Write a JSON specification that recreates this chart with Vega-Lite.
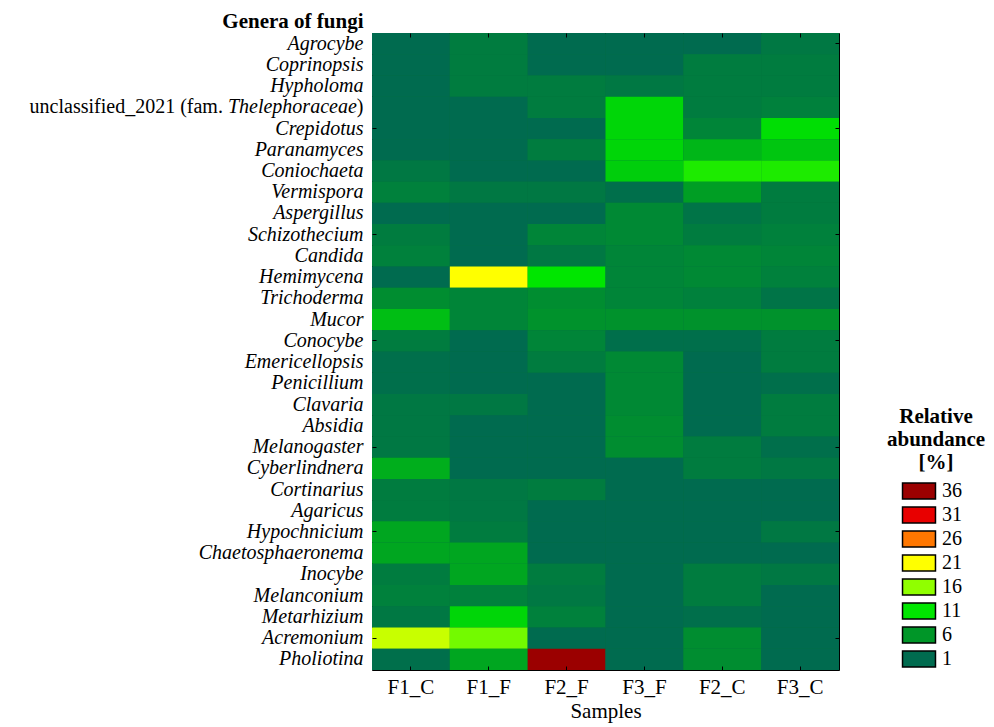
{
  "$schema": "https://vega.github.io/schema/vega-lite/v6.json",
  "autosize": {"type": "none"},
  "padding": {"left": 372, "top": 33, "right": 155, "bottom": 57},
  "width": 467,
  "height": 637,
  "background": "white",
  "config": {
    "view": {"stroke": "#000", "strokeWidth": 1, "fill": "#00703f"},
    "font": "Liberation Serif",
    "axis": {"labelFont": "Liberation Serif", "titleFont": "Liberation Serif", "labelColor": "#000", "titleColor": "#000", "labelFontSize": 21, "titleFontSize": 21, "labelLimit": 400},
    "legend": {"symbolStrokeColor": "#000", "symbolStrokeWidth": 1.5}
  },
  "datasets": {
    "cells": [
      {"genus":"Agrocybe","sample":"F1_C","abundance":1},{"genus":"Agrocybe","sample":"F1_F","abundance":3},{"genus":"Agrocybe","sample":"F2_F","abundance":1},{"genus":"Agrocybe","sample":"F3_F","abundance":1},{"genus":"Agrocybe","sample":"F2_C","abundance":1},{"genus":"Agrocybe","sample":"F3_C","abundance":2.5},
      {"genus":"Coprinopsis","sample":"F1_C","abundance":1},{"genus":"Coprinopsis","sample":"F1_F","abundance":3},{"genus":"Coprinopsis","sample":"F2_F","abundance":1},{"genus":"Coprinopsis","sample":"F3_F","abundance":1},{"genus":"Coprinopsis","sample":"F2_C","abundance":3},{"genus":"Coprinopsis","sample":"F3_C","abundance":3},
      {"genus":"Hypholoma","sample":"F1_C","abundance":1},{"genus":"Hypholoma","sample":"F1_F","abundance":3},{"genus":"Hypholoma","sample":"F2_F","abundance":3},{"genus":"Hypholoma","sample":"F3_F","abundance":2.5},{"genus":"Hypholoma","sample":"F2_C","abundance":3},{"genus":"Hypholoma","sample":"F3_C","abundance":3},
      {"genus":"unclassified_2021 (fam. Thelephoraceae)","sample":"F1_C","abundance":1},{"genus":"unclassified_2021 (fam. Thelephoraceae)","sample":"F1_F","abundance":1},{"genus":"unclassified_2021 (fam. Thelephoraceae)","sample":"F2_F","abundance":3},{"genus":"unclassified_2021 (fam. Thelephoraceae)","sample":"F3_F","abundance":10},{"genus":"unclassified_2021 (fam. Thelephoraceae)","sample":"F2_C","abundance":3},{"genus":"unclassified_2021 (fam. Thelephoraceae)","sample":"F3_C","abundance":3.5},
      {"genus":"Crepidotus","sample":"F1_C","abundance":1},{"genus":"Crepidotus","sample":"F1_F","abundance":1},{"genus":"Crepidotus","sample":"F2_F","abundance":1},{"genus":"Crepidotus","sample":"F3_F","abundance":10},{"genus":"Crepidotus","sample":"F2_C","abundance":4},{"genus":"Crepidotus","sample":"F3_C","abundance":10.5},
      {"genus":"Paranamyces","sample":"F1_C","abundance":1},{"genus":"Paranamyces","sample":"F1_F","abundance":1},{"genus":"Paranamyces","sample":"F2_F","abundance":3},{"genus":"Paranamyces","sample":"F3_F","abundance":10},{"genus":"Paranamyces","sample":"F2_C","abundance":8},{"genus":"Paranamyces","sample":"F3_C","abundance":9},
      {"genus":"Coniochaeta","sample":"F1_C","abundance":2.5},{"genus":"Coniochaeta","sample":"F1_F","abundance":1},{"genus":"Coniochaeta","sample":"F2_F","abundance":1},{"genus":"Coniochaeta","sample":"F3_F","abundance":9.5},{"genus":"Coniochaeta","sample":"F2_C","abundance":12},{"genus":"Coniochaeta","sample":"F3_C","abundance":12},
      {"genus":"Vermispora","sample":"F1_C","abundance":3.5},{"genus":"Vermispora","sample":"F1_F","abundance":2.5},{"genus":"Vermispora","sample":"F2_F","abundance":2.5},{"genus":"Vermispora","sample":"F3_F","abundance":1.5},{"genus":"Vermispora","sample":"F2_C","abundance":6.5},{"genus":"Vermispora","sample":"F3_C","abundance":3},
      {"genus":"Aspergillus","sample":"F1_C","abundance":1},{"genus":"Aspergillus","sample":"F1_F","abundance":1},{"genus":"Aspergillus","sample":"F2_F","abundance":1},{"genus":"Aspergillus","sample":"F3_F","abundance":4.5},{"genus":"Aspergillus","sample":"F2_C","abundance":2},{"genus":"Aspergillus","sample":"F3_C","abundance":3},
      {"genus":"Schizothecium","sample":"F1_C","abundance":3},{"genus":"Schizothecium","sample":"F1_F","abundance":1},{"genus":"Schizothecium","sample":"F2_F","abundance":4},{"genus":"Schizothecium","sample":"F3_F","abundance":4.5},{"genus":"Schizothecium","sample":"F2_C","abundance":3},{"genus":"Schizothecium","sample":"F3_C","abundance":3.5},
      {"genus":"Candida","sample":"F1_C","abundance":3.5},{"genus":"Candida","sample":"F1_F","abundance":1},{"genus":"Candida","sample":"F2_F","abundance":2.5},{"genus":"Candida","sample":"F3_F","abundance":4},{"genus":"Candida","sample":"F2_C","abundance":4.5},{"genus":"Candida","sample":"F3_C","abundance":4},
      {"genus":"Hemimycena","sample":"F1_C","abundance":1},{"genus":"Hemimycena","sample":"F1_F","abundance":21},{"genus":"Hemimycena","sample":"F2_F","abundance":11},{"genus":"Hemimycena","sample":"F3_F","abundance":4},{"genus":"Hemimycena","sample":"F2_C","abundance":4.5},{"genus":"Hemimycena","sample":"F3_C","abundance":3.5},
      {"genus":"Trichoderma","sample":"F1_C","abundance":5},{"genus":"Trichoderma","sample":"F1_F","abundance":4},{"genus":"Trichoderma","sample":"F2_F","abundance":5},{"genus":"Trichoderma","sample":"F3_F","abundance":4},{"genus":"Trichoderma","sample":"F2_C","abundance":3.5},{"genus":"Trichoderma","sample":"F3_C","abundance":2},
      {"genus":"Mucor","sample":"F1_C","abundance":8.5},{"genus":"Mucor","sample":"F1_F","abundance":4},{"genus":"Mucor","sample":"F2_F","abundance":5.5},{"genus":"Mucor","sample":"F3_F","abundance":5.5},{"genus":"Mucor","sample":"F2_C","abundance":5.5},{"genus":"Mucor","sample":"F3_C","abundance":5.5},
      {"genus":"Conocybe","sample":"F1_C","abundance":3},{"genus":"Conocybe","sample":"F1_F","abundance":1},{"genus":"Conocybe","sample":"F2_F","abundance":4},{"genus":"Conocybe","sample":"F3_F","abundance":1.5},{"genus":"Conocybe","sample":"F2_C","abundance":1.5},{"genus":"Conocybe","sample":"F3_C","abundance":3},
      {"genus":"Emericellopsis","sample":"F1_C","abundance":1.5},{"genus":"Emericellopsis","sample":"F1_F","abundance":1},{"genus":"Emericellopsis","sample":"F2_F","abundance":3},{"genus":"Emericellopsis","sample":"F3_F","abundance":4.5},{"genus":"Emericellopsis","sample":"F2_C","abundance":1},{"genus":"Emericellopsis","sample":"F3_C","abundance":3},
      {"genus":"Penicillium","sample":"F1_C","abundance":1.5},{"genus":"Penicillium","sample":"F1_F","abundance":1},{"genus":"Penicillium","sample":"F2_F","abundance":1},{"genus":"Penicillium","sample":"F3_F","abundance":4.5},{"genus":"Penicillium","sample":"F2_C","abundance":1},{"genus":"Penicillium","sample":"F3_C","abundance":1.5},
      {"genus":"Clavaria","sample":"F1_C","abundance":2.5},{"genus":"Clavaria","sample":"F1_F","abundance":2.5},{"genus":"Clavaria","sample":"F2_F","abundance":1},{"genus":"Clavaria","sample":"F3_F","abundance":4.5},{"genus":"Clavaria","sample":"F2_C","abundance":1},{"genus":"Clavaria","sample":"F3_C","abundance":3},
      {"genus":"Absidia","sample":"F1_C","abundance":2.5},{"genus":"Absidia","sample":"F1_F","abundance":1},{"genus":"Absidia","sample":"F2_F","abundance":1},{"genus":"Absidia","sample":"F3_F","abundance":5},{"genus":"Absidia","sample":"F2_C","abundance":1},{"genus":"Absidia","sample":"F3_C","abundance":3},
      {"genus":"Melanogaster","sample":"F1_C","abundance":2.5},{"genus":"Melanogaster","sample":"F1_F","abundance":1},{"genus":"Melanogaster","sample":"F2_F","abundance":1},{"genus":"Melanogaster","sample":"F3_F","abundance":5},{"genus":"Melanogaster","sample":"F2_C","abundance":3},{"genus":"Melanogaster","sample":"F3_C","abundance":1.5},
      {"genus":"Cyberlindnera","sample":"F1_C","abundance":7.5},{"genus":"Cyberlindnera","sample":"F1_F","abundance":1},{"genus":"Cyberlindnera","sample":"F2_F","abundance":1},{"genus":"Cyberlindnera","sample":"F3_F","abundance":1},{"genus":"Cyberlindnera","sample":"F2_C","abundance":3},{"genus":"Cyberlindnera","sample":"F3_C","abundance":2.5},
      {"genus":"Cortinarius","sample":"F1_C","abundance":3},{"genus":"Cortinarius","sample":"F1_F","abundance":2.5},{"genus":"Cortinarius","sample":"F2_F","abundance":3},{"genus":"Cortinarius","sample":"F3_F","abundance":1},{"genus":"Cortinarius","sample":"F2_C","abundance":1},{"genus":"Cortinarius","sample":"F3_C","abundance":1},
      {"genus":"Agaricus","sample":"F1_C","abundance":3},{"genus":"Agaricus","sample":"F1_F","abundance":2.5},{"genus":"Agaricus","sample":"F2_F","abundance":1},{"genus":"Agaricus","sample":"F3_F","abundance":1},{"genus":"Agaricus","sample":"F2_C","abundance":1},{"genus":"Agaricus","sample":"F3_C","abundance":1},
      {"genus":"Hypochnicium","sample":"F1_C","abundance":7},{"genus":"Hypochnicium","sample":"F1_F","abundance":3},{"genus":"Hypochnicium","sample":"F2_F","abundance":1},{"genus":"Hypochnicium","sample":"F3_F","abundance":1},{"genus":"Hypochnicium","sample":"F2_C","abundance":1},{"genus":"Hypochnicium","sample":"F3_C","abundance":2.5},
      {"genus":"Chaetosphaeronema","sample":"F1_C","abundance":7},{"genus":"Chaetosphaeronema","sample":"F1_F","abundance":7},{"genus":"Chaetosphaeronema","sample":"F2_F","abundance":1},{"genus":"Chaetosphaeronema","sample":"F3_F","abundance":1},{"genus":"Chaetosphaeronema","sample":"F2_C","abundance":1},{"genus":"Chaetosphaeronema","sample":"F3_C","abundance":1},
      {"genus":"Inocybe","sample":"F1_C","abundance":3},{"genus":"Inocybe","sample":"F1_F","abundance":7},{"genus":"Inocybe","sample":"F2_F","abundance":3},{"genus":"Inocybe","sample":"F3_F","abundance":1},{"genus":"Inocybe","sample":"F2_C","abundance":3},{"genus":"Inocybe","sample":"F3_C","abundance":2.5},
      {"genus":"Melanconium","sample":"F1_C","abundance":3.5},{"genus":"Melanconium","sample":"F1_F","abundance":3.5},{"genus":"Melanconium","sample":"F2_F","abundance":2.5},{"genus":"Melanconium","sample":"F3_F","abundance":1},{"genus":"Melanconium","sample":"F2_C","abundance":3},{"genus":"Melanconium","sample":"F3_C","abundance":1},
      {"genus":"Metarhizium","sample":"F1_C","abundance":2.5},{"genus":"Metarhizium","sample":"F1_F","abundance":10},{"genus":"Metarhizium","sample":"F2_F","abundance":3.5},{"genus":"Metarhizium","sample":"F3_F","abundance":1},{"genus":"Metarhizium","sample":"F2_C","abundance":1.5},{"genus":"Metarhizium","sample":"F3_C","abundance":1},
      {"genus":"Acremonium","sample":"F1_C","abundance":18.5},{"genus":"Acremonium","sample":"F1_F","abundance":15},{"genus":"Acremonium","sample":"F2_F","abundance":1},{"genus":"Acremonium","sample":"F3_F","abundance":1},{"genus":"Acremonium","sample":"F2_C","abundance":5},{"genus":"Acremonium","sample":"F3_C","abundance":1},
      {"genus":"Pholiotina","sample":"F1_C","abundance":1.5},{"genus":"Pholiotina","sample":"F1_F","abundance":7},{"genus":"Pholiotina","sample":"F2_F","abundance":37},{"genus":"Pholiotina","sample":"F3_F","abundance":1},{"genus":"Pholiotina","sample":"F2_C","abundance":5},{"genus":"Pholiotina","sample":"F3_C","abundance":1}
    ]
  },
  "data": {"name": "cells"},
  "layer": [
    {
      "mark": {"type": "rect"},
      "encoding": {
        "x": {
          "field": "sample", "type": "nominal", "sort": null,
          "scale": {"paddingInner": 0, "paddingOuter": 0},
          "axis": {"orient": "bottom", "title": "Samples", "titleFontWeight": "normal", "labelAngle": 0, "domain": false, "ticks": true, "tickSize": -4, "tickColor": "#000", "labelPadding": 10, "titlePadding": 3}
        },
        "y": {
          "field": "genus", "type": "nominal", "sort": null,
          "scale": {"paddingInner": 0, "paddingOuter": 0},
          "axis": {
            "orient": "left", "domain": false, "ticks": false, "labelPadding": 9, "labelFontStyle": "italic", "labelFontSize": 20,
            "labelExpr": "datum.value == 'unclassified_2021 (fam. Thelephoraceae)' ? '' : datum.value",
            "title": "Genera of fungi", "titleFontWeight": "bold", "titleAngle": 0, "titleAlign": "right", "titleBaseline": "alphabetic", "titleX": -9, "titleY": -6
          }
        },
        "color": {
          "field": "abundance", "type": "quantitative",
          "scale": {"type": "linear", "domain": [1, 6, 11, 16, 21, 26, 31, 36], "range": ["#006b4f", "#009628", "#00e600", "#90ff00", "#ffff00", "#ff7700", "#e80000", "#9b0000"], "interpolate": "rgb", "clamp": true},
          "legend": {
            "type": "symbol", "orient": "none", "legendX": 515, "legendY": 373, "padding": 0,
            "values": [36, 31, 26, 21, 16, 11, 6, 1],
            "title": ["Relative", "abundance", "[%]"], "titleFont": "Liberation Serif", "titleFontSize": 21, "titleFontWeight": "bold", "titleColor": "#000", "titleAlign": "center", "titleAnchor": "middle", "titleLineHeight": 23, "titlePadding": 8,
            "symbolType": "M-2.06,-1H2.06V1H-2.06Z", "symbolSize": 256, "symbolStrokeColor": "#000", "symbolStrokeWidth": 1.5, "symbolOpacity": 1,
            "labelFont": "Liberation Serif", "labelFontSize": 20, "labelColor": "#000", "labelOffset": 13, "rowPadding": 2,
            "encode": {"symbols": {"enter": {"stroke": {"value": "#000000"}, "strokeWidth": {"value": 1.5}}, "update": {"stroke": {"value": "#000000"}, "strokeWidth": {"value": 1.5}, "strokeOpacity": {"value": 1}}}}
          }
        }
      }
    },
    {
      "mark": {"type": "rect", "opacity": 0},
      "encoding": {
        "y": {"field": "genus", "type": "nominal", "sort": null,
          "axis": {"orient": "left", "title": null, "domain": false, "ticks": false, "labelPadding": 9, "labelFontStyle": "normal", "labelFontSize": 20,
            "labelExpr": "datum.value == 'unclassified_2021 (fam. Thelephoraceae)' ? ')' : ''"}}
      }
    },
    {
      "mark": {"type": "rect", "opacity": 0},
      "encoding": {
        "y": {"field": "genus", "type": "nominal", "sort": null,
          "axis": {"orient": "left", "title": null, "domain": false, "ticks": false, "labelPadding": 15.7, "labelFontStyle": "italic", "labelFontSize": 20,
            "labelExpr": "datum.value == 'unclassified_2021 (fam. Thelephoraceae)' ? 'Thelephoraceae' : ''"}}
      }
    },
    {
      "mark": {"type": "rect", "opacity": 0},
      "encoding": {
        "y": {"field": "genus", "type": "nominal", "sort": null,
          "axis": {"orient": "left", "title": null, "domain": false, "ticks": false, "labelPadding": 149.6, "labelFontStyle": "normal", "labelFontSize": 20,
            "labelExpr": "datum.value == 'unclassified_2021 (fam. Thelephoraceae)' ? 'unclassified_2021 (fam.' : ''"}}
      }
    },
    {
      "mark": {"type": "rect", "opacity": 0},
      "encoding": {
        "y": {"field": "genus", "type": "nominal", "sort": null,
          "axis": {"orient": "left", "title": null, "domain": false, "labels": false, "ticks": true, "tickSize": -4, "tickColor": "#000",
            "values": ["Crepidotus", "Schizothecium", "Conocybe", "Melanogaster", "Hypochnicium", "Acremonium"]}}
      }
    },
    {
      "mark": {"type": "rect", "opacity": 0},
      "encoding": {
        "y": {"field": "genus", "type": "nominal", "sort": null,
          "axis": {"orient": "right", "title": null, "domain": false, "labels": false, "ticks": true, "tickSize": -4, "tickColor": "#000",
            "values": ["Agrocybe", "Crepidotus", "Schizothecium", "Conocybe", "Melanogaster", "Hypochnicium", "Acremonium"]}}
      }
    },
    {
      "mark": {"type": "rect", "opacity": 0},
      "encoding": {
        "x": {"field": "sample", "type": "nominal", "sort": null,
          "axis": {"orient": "top", "title": null, "domain": false, "labels": false, "ticks": true, "tickSize": -4, "tickColor": "#000"}}
      }
    }
  ],
  "resolve": {"axis": {"y": "independent", "x": "independent"}}
}
